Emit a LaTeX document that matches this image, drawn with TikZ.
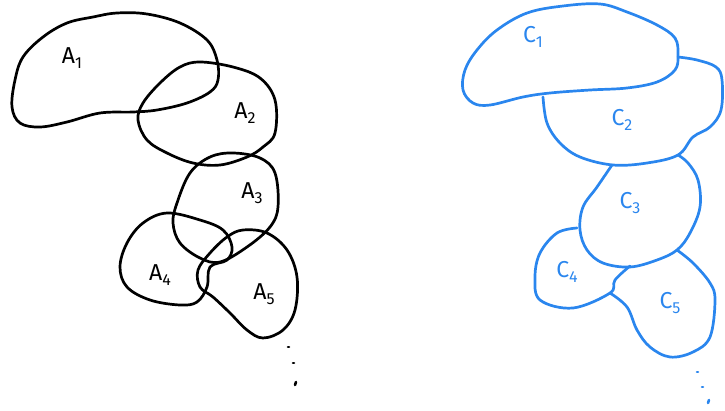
\documentclass[tikz,border=0pt]{standalone}
\usepackage{fontspec}
\setsansfont{Fira Sans}
\definecolor{setblue}{HTML}{2A86EE}
\newcommand{\lblsub}[1]{\raisebox{-0.45ex}{\fontsize{16}{18}\selectfont #1}}
\tikzset{
  blob/.style={line width=2.7pt, line join=round, line cap=round},
  lbl/.style={font=\sffamily\fontsize{23}{26}\selectfont, inner sep=0pt},
  dotmark/.style={line width=2.6pt, line cap=round}
}
\begin{document}
\begin{tikzpicture}[x=1pt, y=-1pt]
        \useasboundingbox (0,0) rectangle (725,410);

        % Sets A
        \draw[blob] plot[smooth cycle, tension=0.6] coordinates {
          (117,13) (147,14) (180,23) (207,40) (217,60) (218,80) (210,92)
          (187,103) (157,110) (133,112) (100,113) (67,122) (40,127) (20,123)
          (12,107) (15,80) (23,57) (43,37) (67,23) (93,17)};
        \draw[blob] plot[smooth cycle, tension=0.6] coordinates {
          (200,62) (233,67) (260,78) (275,100) (275,133) (263,147) (247,157)
          (220,165) (193,163) (167,153) (147,140) (138,120) (143,103) (160,83)
          (180,67)};
        \draw[blob] plot[smooth cycle, tension=0.6] coordinates {
          (233,153) (260,158) (275,173) (278,207) (270,227) (247,247) (220,262)
          (200,258) (180,243) (173,223) (177,203) (190,173) (210,157)};
        \draw[blob] plot[smooth cycle, tension=0.6] coordinates {
          (167,213) (200,220) (223,230) (232,247) (227,260) (210,267) (207,287)
          (197,302) (180,305) (150,300) (127,287) (120,267) (127,243) (143,223)};
        \draw[blob] plot[smooth cycle, tension=0.6] coordinates {
          (243,230) (267,233) (287,250) (297,277) (295,310) (283,330) (263,338)
          (247,330) (230,313) (213,297) (200,287) (198,270) (210,253) (227,237)};

        % Sets C
        \begin{scope}[setblue]
          \draw[blob] plot[smooth cycle, tension=0.6] coordinates {
            (600,4) (627,12) (657,25) (675,38) (678,55) (675,70) (657,82)
            (627,88) (590,90) (550,93) (523,97) (490,105) (473,103) (463,90)
            (465,70) (477,50) (497,30) (527,13) (563,6)};
          \draw[blob] plot[smooth, tension=0.6] coordinates {
            (543,97) (547,123) (560,143) (580,157) (613,165) (647,163) (678,155)
            (693,137) (710,127) (721,110) (722,80) (716,67) (697,60) (678,57)};
          \draw[blob] plot[smooth, tension=0.6] coordinates {
            (612,165) (597,187) (583,207) (580,230) (587,250) (603,263) (630,267)
            (657,260) (677,250) (690,233) (700,207) (698,180) (688,163) (678,155)};
          \draw[blob] plot[smooth, tension=0.6] coordinates {
            (577,228) (557,233) (540,253) (535,277) (540,300) (573,308) (610,293)
            (615,280) (630,266)};
          \draw[blob] plot[smooth, tension=0.6] coordinates {
            (610,293) (627,307) (637,330) (650,347) (670,357) (693,352) (710,337)
            (715,300) (710,283) (693,263) (677,250)};
        \end{scope}

        % Labels
        \node[lbl] (a1) at (72,58) {A\lblsub{1}};
        \node[lbl] (a2) at (245,113) {A\lblsub{2}};
        \node[lbl] (a3) at (252,193) {A\lblsub{3}};
        \node[lbl] (a4) at (160,275) {A\lblsub{4}};
        \node[lbl] (a5) at (264,294) {A\lblsub{5}};
        \node[lbl, setblue] (c1) at (533,37) {C\lblsub{1}};
        \node[lbl, setblue] (c2) at (622,120) {C\lblsub{2}};
        \node[lbl, setblue] (c3) at (630,203) {C\lblsub{3}};
        \node[lbl, setblue] (c4) at (567,272) {C\lblsub{4}};
        \node[lbl, setblue] (c5) at (670,303) {C\lblsub{5}};

        % Dots
        \foreach \x/\y in {288/347, 293/363}
          \draw[dotmark] (\x,\y) -- ++(1,0);
        \draw[dotmark] (296,382) -- ++(-1,3);
        \foreach \x/\y in {697/372, 702/387}
          \draw[dotmark, setblue] (\x,\y) -- ++(1,0);
        \draw[dotmark, setblue] (709,400) -- ++(-1,3);
\end{tikzpicture}
\end{document}
